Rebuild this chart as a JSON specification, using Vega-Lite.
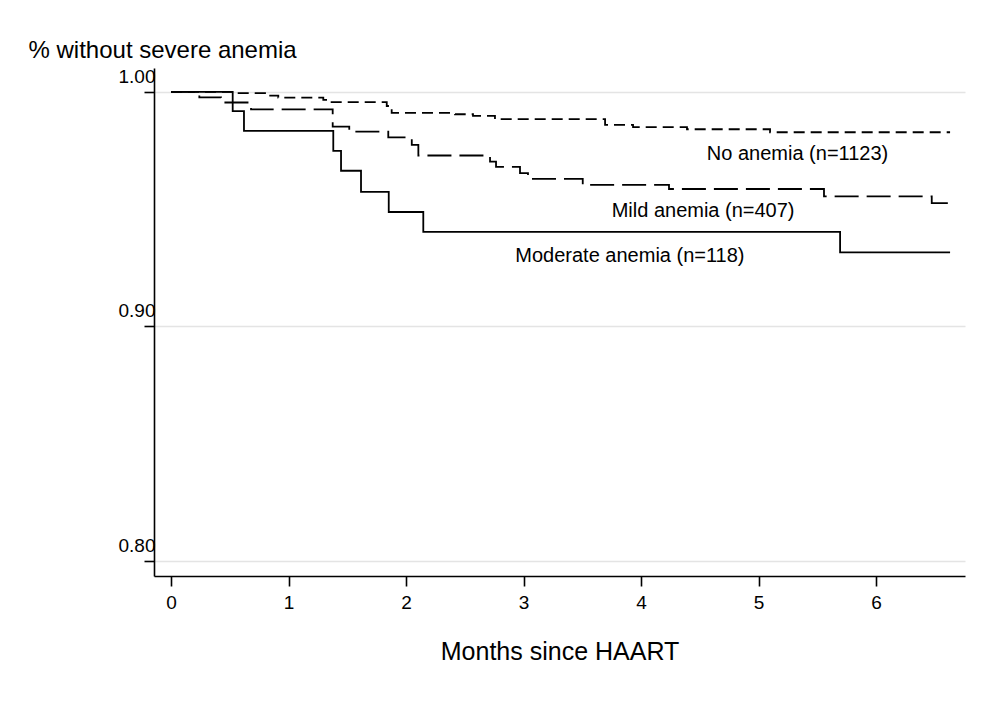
{
  "$schema": "https://vega.github.io/schema/vega-lite/v6.json",
  "autosize": "none",
  "width": 811,
  "height": 508,
  "padding": {"left": 154, "top": 68, "right": 18, "bottom": 137},
  "background": "white",
  "config": {
    "view": {"stroke": null},
    "font": "Liberation Sans",
    "axis": {
      "domainColor": "black",
      "domainWidth": 1.6,
      "tickColor": "black",
      "tickWidth": 1.6,
      "tickSize": 10,
      "labelColor": "black",
      "titleColor": "black",
      "labelFont": "Liberation Sans",
      "titleFont": "Liberation Sans",
      "titleFontWeight": "normal"
    }
  },
  "datasets": {
    "curves": [
      {"group": "Moderate", "month": 0, "surv": 1.0},
      {"group": "Moderate", "month": 0.525, "surv": 0.9918},
      {"group": "Moderate", "month": 0.621, "surv": 0.9834},
      {"group": "Moderate", "month": 1.381, "surv": 0.9749},
      {"group": "Moderate", "month": 1.447, "surv": 0.9664},
      {"group": "Moderate", "month": 1.617, "surv": 0.9574},
      {"group": "Moderate", "month": 1.853, "surv": 0.9488},
      {"group": "Moderate", "month": 2.147, "surv": 0.9403},
      {"group": "Moderate", "month": 5.694, "surv": 0.9316},
      {"group": "Moderate", "month": 6.63, "surv": 0.9316},
      {"group": "Mild", "month": 0, "surv": 1.0},
      {"group": "Mild", "month": 0.241, "surv": 0.9977},
      {"group": "Mild", "month": 0.426, "surv": 0.9955},
      {"group": "Mild", "month": 0.681, "surv": 0.9926},
      {"group": "Mild", "month": 1.376, "surv": 0.9852},
      {"group": "Mild", "month": 1.517, "surv": 0.9831},
      {"group": "Mild", "month": 1.849, "surv": 0.9806},
      {"group": "Mild", "month": 2.049, "surv": 0.9774},
      {"group": "Mild", "month": 2.105, "surv": 0.9729},
      {"group": "Mild", "month": 2.715, "surv": 0.9703},
      {"group": "Mild", "month": 2.766, "surv": 0.968},
      {"group": "Mild", "month": 2.97, "surv": 0.9654},
      {"group": "Mild", "month": 3.038, "surv": 0.9629},
      {"group": "Mild", "month": 3.504, "surv": 0.9604},
      {"group": "Mild", "month": 4.238, "surv": 0.9586},
      {"group": "Mild", "month": 5.557, "surv": 0.9555},
      {"group": "Mild", "month": 6.474, "surv": 0.9526},
      {"group": "Mild", "month": 6.63, "surv": 0.9526},
      {"group": "None", "month": 0, "surv": 1.0},
      {"group": "None", "month": 0.528, "surv": 0.99945},
      {"group": "None", "month": 0.8, "surv": 0.99842},
      {"group": "None", "month": 0.913, "surv": 0.99757},
      {"group": "None", "month": 1.296, "surv": 0.99659},
      {"group": "None", "month": 1.353, "surv": 0.99561},
      {"group": "None", "month": 1.836, "surv": 0.994},
      {"group": "None", "month": 1.878, "surv": 0.99104},
      {"group": "None", "month": 2.417, "surv": 0.99049},
      {"group": "None", "month": 2.57, "surv": 0.98977},
      {"group": "None", "month": 2.757, "surv": 0.98836},
      {"group": "None", "month": 3.694, "surv": 0.98593},
      {"group": "None", "month": 3.932, "surv": 0.98495},
      {"group": "None", "month": 4.391, "surv": 0.98409},
      {"group": "None", "month": 5.098, "surv": 0.98281},
      {"group": "None", "month": 6.63, "surv": 0.98281}
    ],
    "labels": [
      {"label": "No anemia (n=1123)", "month": 4.56, "surv": 0.971},
      {"label": "Mild anemia (n=407)", "month": 3.75, "surv": 0.9467},
      {"label": "Moderate anemia (n=118)", "month": 2.93, "surv": 0.92751}
    ]
  },
  "layer": [
    {
      "data": {"name": "curves"},
      "mark": {"type": "line", "interpolate": "step-after", "color": "black", "strokeWidth": 1.8},
      "encoding": {
        "x": {
          "field": "month", "type": "quantitative",
          "scale": {"domain": [-0.1447, 6.757], "nice": false, "zero": false},
          "axis": {
            "values": [0, 1, 2, 3, 4, 5, 6], "format": "d", "grid": false,
            "labelFontSize": 19, "labelPadding": 7,
            "title": "Months since HAART", "titleFontSize": 25,
            "titleBaseline": "alphabetic", "titleY": 83
          }
        },
        "y": {
          "field": "surv", "type": "quantitative",
          "scale": {"domain": [0.7936, 1.0102], "nice": false, "zero": false},
          "axis": {
            "values": [0.8, 0.9, 1.0], "format": ".2f",
            "grid": true, "gridColor": "#e4e4e4", "gridWidth": 1.5,
            "labelFontSize": 19, "labelPadding": -11, "labelAlign": "right",
            "labelBaseline": "alphabetic", "labelOffset": -9.5,
            "title": "% without severe anemia", "titleFontSize": 24,
            "titleAngle": 0, "titleAlign": "left", "titleBaseline": "alphabetic",
            "titleX": -126, "titleY": -11
          }
        },
        "detail": {"field": "group"},
        "strokeDash": {
          "field": "group", "type": "nominal", "legend": null,
          "scale": {"domain": ["Moderate", "Mild", "None"], "range": [[1, 0], [24, 8], [11, 6]]}
        }
      }
    },
    {
      "data": {"name": "labels"},
      "mark": {"type": "text", "align": "left", "baseline": "alphabetic", "fontSize": 20, "color": "black", "font": "Liberation Sans"},
      "encoding": {
        "x": {"field": "month", "type": "quantitative"},
        "y": {"field": "surv", "type": "quantitative"},
        "text": {"field": "label"}
      }
    }
  ]
}
